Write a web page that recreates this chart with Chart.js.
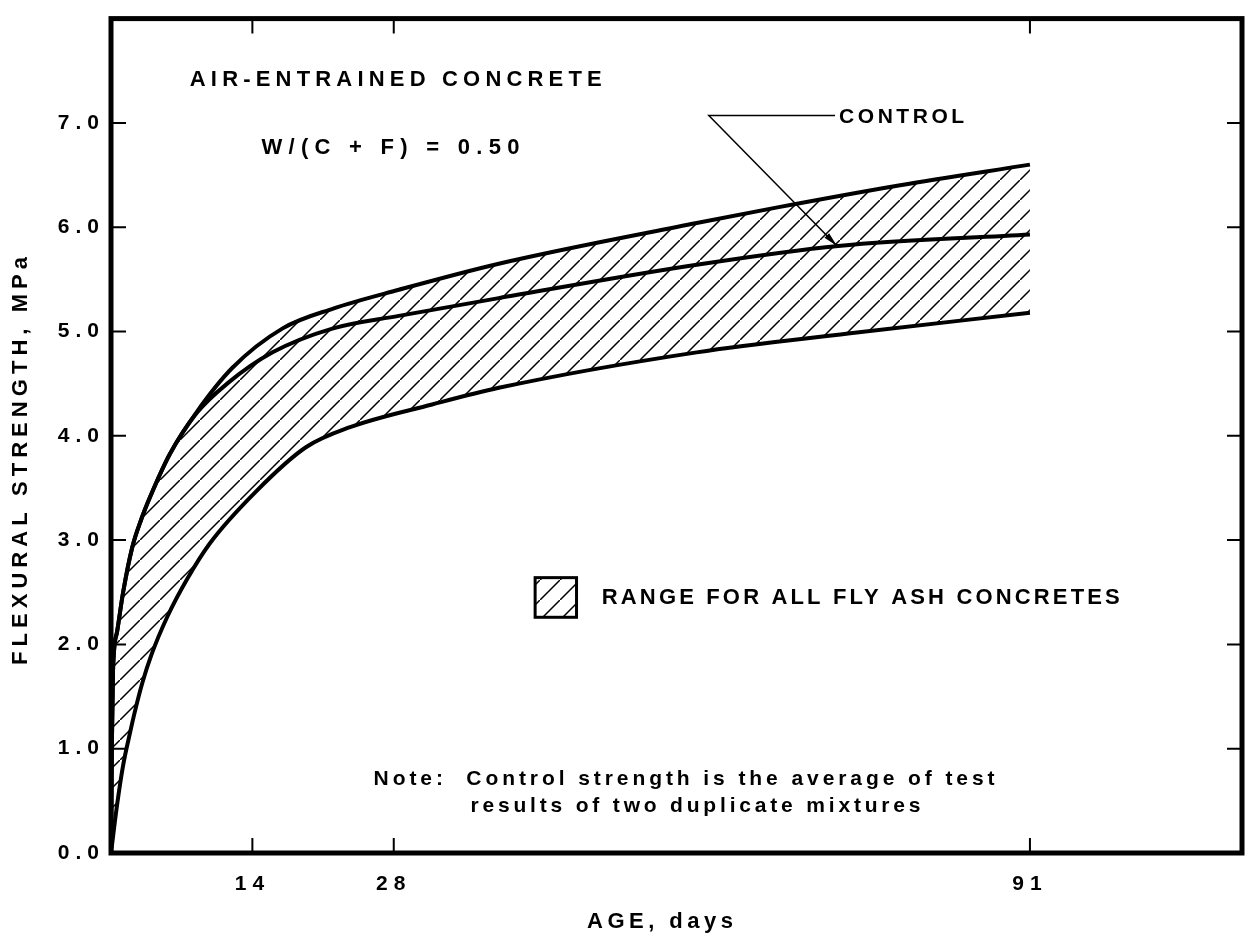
<!DOCTYPE html>
<html>
<head>
<meta charset="utf-8">
<script src="https://cdn.jsdelivr.net/npm/chart.js@4.4.1/dist/chart.umd.min.js"></script>
<style>
  html, body { margin: 0; padding: 0; background: #fff; }
  canvas { display: block; }
</style>
</head>
<body>
<canvas id="strengthChart" width="1250" height="937"></canvas>
<script>
// values (age in days, flexural strength in MPa)
const upperDays = [0, 0.08, 0.2, 0.6, 1.2, 2.1, 3.0, 3.9, 5.8, 8.5, 12, 17, 22, 28.5, 38.4, 58, 66, 78, 91];
const upperMPa = [0, 1.0, 1.75, 2.12, 2.5, 2.93, 3.2, 3.42, 3.82, 4.23, 4.65, 5.03, 5.22, 5.40, 5.65, 6.04, 6.19, 6.40, 6.60];

const controlDays = [0, 0.08, 0.2, 0.6, 1.2, 2.1, 3.0, 3.9, 5.8, 8.5, 11.5, 16, 22, 28.5, 38.4, 58, 72, 91];
const controlMPa = [0, 1.0, 1.75, 2.12, 2.5, 2.93, 3.2, 3.42, 3.82, 4.22, 4.5, 4.8, 5.03, 5.15, 5.32, 5.64, 5.82, 5.93];

const lowerDays = [0, 0.6, 1.2, 1.9, 2.4, 3.1, 4.0, 5.6, 7.5, 9.8, 14.4, 19.3, 23.6, 31.8, 38.4, 58, 73, 91];
const lowerMPa = [0, 0.46, 0.84, 1.16, 1.37, 1.63, 1.90, 2.27, 2.62, 2.97, 3.47, 3.89, 4.08, 4.30, 4.46, 4.80, 4.98, 5.18];

const xTickDays = [14, 28, 91];
const yTickValues = [0, 1, 2, 3, 4, 5, 6, 7];

const FONT = '"Liberation Sans", Arial, sans-serif';
const toPoints = (xs, ys) => xs.map((x, i) => ({ x, y: ys[i] }));

function makeHatch() {
    const tile = document.createElement('canvas');
    tile.width = tile.height = 20;
    const t = tile.getContext('2d');
    t.strokeStyle = '#000';
    t.lineWidth = 1.5;
    t.beginPath();
    [-20, 0, 20].forEach((o) => {
        t.moveTo(-2 + o, 22 + o);
        t.lineTo(22 + o, -2 + o);
    });
    t.stroke();
    return t.createPattern(tile, 'repeat');
}
const hatch = makeHatch();

// draw text so that it spans the given width (the figure uses very open lettering)
function spaced(ctx, text, x, y, width) {
    ctx.letterSpacing = '0px';
    const natural = ctx.measureText(text).width;
    ctx.letterSpacing = ((width - natural) / (text.length - 1)) + 'px';
    ctx.textAlign = 'left';
    ctx.textBaseline = 'middle';
    ctx.fillText(text, x, y);
    ctx.letterSpacing = '0px';
}

const figureDecor = {
    id: 'figureDecor',
    beforeUpdate(chart) { chart.ctx.letterSpacing = '6px'; },
    beforeDraw(chart) { chart.ctx.letterSpacing = '6px'; },
    afterDraw(chart) {
        const { ctx, chartArea: area, scales: { x, y } } = chart;
        const at = (d, v) => [x.getPixelForValue(d), y.getPixelForValue(v)];
        ctx.save();
        ctx.strokeStyle = '#000';
        ctx.fillStyle = '#000';

        // frame
        ctx.lineWidth = 5;
        ctx.strokeRect(area.left, area.top, area.right - area.left, area.bottom - area.top);

        // inward tick marks on all four sides
        ctx.lineWidth = 2;
        ctx.beginPath();
        yTickValues.forEach((v) => {
            const py = y.getPixelForValue(v);
            ctx.moveTo(area.left, py); ctx.lineTo(area.left + 15, py);
            ctx.moveTo(area.right, py); ctx.lineTo(area.right - 15, py);
        });
        xTickDays.forEach((d) => {
            const px = x.getPixelForValue(d);
            ctx.moveTo(px, area.bottom); ctx.lineTo(px, area.bottom - 15);
            ctx.moveTo(px, area.top); ctx.lineTo(px, area.top + 15);
        });
        ctx.stroke();

        ctx.font = 'bold 22px ' + FONT;
        let p = at(7.8, 7.41);
        spaced(ctx, 'AIR-ENTRAINED CONCRETE', p[0], p[1], 412);
        p = at(14.9, 6.76);
        spaced(ctx, 'W/(C + F) = 0.50', p[0], p[1], 258);
        ctx.font = 'bold 21px ' + FONT;
        p = at(72.1, 7.05);
        spaced(ctx, 'CONTROL', p[0], p[1], 125);

        // leader and arrow to the control curve
        const start = at(59.2, 7.07);
        const elbow = at(71.7, 7.07);
        const tip = at(71.9, 5.82);
        ctx.lineWidth = 1.5;
        ctx.beginPath();
        ctx.moveTo(elbow[0], elbow[1]);
        ctx.lineTo(start[0], start[1]);
        ctx.lineTo(tip[0], tip[1]);
        ctx.stroke();
        const ang = Math.atan2(tip[1] - start[1], tip[0] - start[0]);
        ctx.beginPath();
        ctx.moveTo(tip[0], tip[1]);
        ctx.lineTo(tip[0] - 15 * Math.cos(ang - 0.22), tip[1] - 15 * Math.sin(ang - 0.22));
        ctx.lineTo(tip[0] - 15 * Math.cos(ang + 0.22), tip[1] - 15 * Math.sin(ang + 0.22));
        ctx.closePath();
        ctx.fill();

        // legend swatch
        const b0 = at(42.0, 2.64);
        const b1 = at(46.1, 2.26);
        ctx.fillStyle = hatch;
        ctx.fillRect(b0[0], b0[1], b1[0] - b0[0], b1[1] - b0[1]);
        ctx.lineWidth = 3;
        ctx.strokeRect(b0[0], b0[1], b1[0] - b0[0], b1[1] - b0[1]);
        ctx.fillStyle = '#000';
        ctx.font = 'bold 22px ' + FONT;
        p = at(48.6, 2.45);
        spaced(ctx, 'RANGE FOR ALL FLY ASH CONCRETES', p[0], p[1], 518);

        ctx.font = 'bold 21px ' + FONT;
        p = at(26.0, 0.71);
        spaced(ctx, 'Note:  Control strength is the average of test', p[0], p[1], 621);
        p = at(35.6, 0.45);
        spaced(ctx, 'results of two duplicate mixtures', p[0], p[1], 450);

        // axis titles
        ctx.font = 'bold 22px ' + FONT;
        spaced(ctx, 'AGE, days', area.left + 476, area.bottom + 69, 146);
        ctx.translate(21, 461);
        ctx.rotate(-Math.PI / 2);
        spaced(ctx, 'FLEXURAL STRENGTH, MPa', -204, 0, 408);
        ctx.restore();
    }
};

const line = (label, xs, ys, extra) => Object.assign({
    label,
    data: toPoints(xs, ys),
    borderColor: '#000',
    borderWidth: 4,
    pointRadius: 0,
    cubicInterpolationMode: 'monotone',
    fill: false,
}, extra);

new Chart(document.getElementById('strengthChart'), {
    type: 'line',
    data: {
        datasets: [
            line('Fly ash range, upper', upperDays, upperMPa, { fill: 2, backgroundColor: hatch }),
            line('Control', controlDays, controlMPa),
            line('Fly ash range, lower', lowerDays, lowerMPa),
        ],
    },
    options: {
        responsive: false,
        animation: false,
        layout: { padding: { top: 10, right: 8, left: 0, bottom: 0 } },
        plugins: { legend: { display: false }, tooltip: { enabled: false } },
        scales: {
            x: {
                type: 'linear',
                min: 0,
                max: 112,
                afterFit: (s) => { s.height = 84; },
                afterBuildTicks: (s) => { s.ticks = xTickDays.map((v) => ({ value: v })); },
                grid: { display: false, drawTicks: false },
                border: { display: false },
                ticks: { color: '#000', font: { family: FONT, size: 21, weight: 'bold' }, padding: 19, maxRotation: 0, autoSkip: false },
            },
            y: {
                min: 0,
                max: 8,
                afterFit: (s) => { s.width = 111; },
                afterBuildTicks: (s) => { s.ticks = yTickValues.map((v) => ({ value: v })); },
                grid: { display: false, drawTicks: false },
                border: { display: false },
                ticks: { color: '#000', font: { family: FONT, size: 21, weight: 'bold' }, padding: 6, callback: (v) => v.toFixed(1) },
            },
        },
    },
    plugins: [figureDecor],
});
</script>
</body>
</html>
